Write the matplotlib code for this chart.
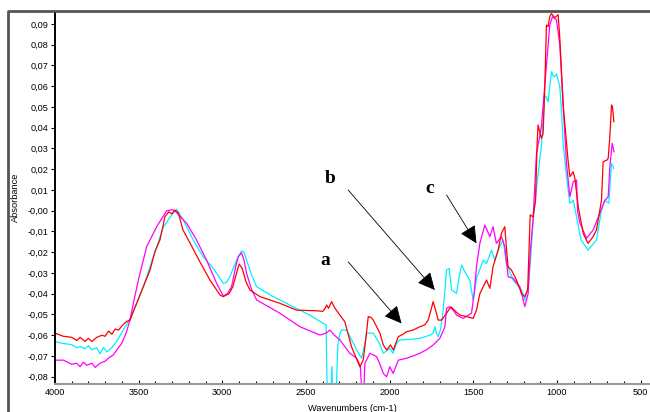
import matplotlib
matplotlib.use("Agg")
import matplotlib.pyplot as plt
from matplotlib.lines import Line2D

# ---- data (wavenumber, absorbance) ----
red_w = [4000, 3950, 3900, 3870, 3850, 3820, 3800, 3780, 3750, 3720, 3700, 3680, 3660, 3640, 3620, 3600,
         3575, 3552, 3512, 3472, 3432, 3403, 3373, 3343, 3320, 3303, 3283, 3263, 3235, 3193, 3134, 3074,
         3014, 2995, 2960, 2937, 2915, 2899, 2880, 2860, 2835, 2775, 2656, 2556, 2437, 2400, 2385, 2377,
         2365, 2347, 2327, 2300, 2268, 2228, 2200, 2178, 2158, 2140, 2128, 2110, 2098, 2058, 2038, 2018,
         1995, 1978, 1948, 1920, 1899, 1860, 1819, 1790, 1770, 1750, 1740, 1725, 1710, 1690, 1665, 1640,
         1630, 1600, 1580, 1540, 1501, 1481, 1461, 1441, 1421, 1401, 1382, 1352, 1332, 1312, 1300, 1292,
         1272, 1242, 1212, 1192, 1175, 1160, 1143, 1128, 1119, 1113, 1093, 1083, 1073, 1063, 1053, 1043,
         1033, 1013, 993, 983, 963, 933, 923, 903, 893, 873, 843, 814, 784, 764, 734, 724, 700, 694,
         684, 674, 668, 660]
red_a = [-0.059, -0.0605, -0.061, -0.0625, -0.061, -0.063, -0.0615, -0.063, -0.061, -0.060, -0.0605, -0.058,
         -0.0595, -0.057, -0.0575, -0.0555, -0.0535, -0.0527, -0.0446, -0.0366, -0.0286, -0.0198, -0.0141,
         -0.0029, -0.0005, -0.0015, 0.0003, -0.001, -0.0093, -0.0156, -0.0246, -0.0334, -0.0406, -0.0414,
         -0.040, -0.0366, -0.030, -0.0257, -0.028, -0.034, -0.0382, -0.0414, -0.0446, -0.0479, -0.0482,
         -0.0485, -0.047, -0.0454, -0.047, -0.0438, -0.047, -0.050, -0.0535, -0.0655, -0.071, -0.0752,
         -0.072, -0.060, -0.051, -0.0515, -0.0527, -0.059, -0.0647, -0.0671, -0.0647, -0.0671, -0.0607,
         -0.0595, -0.0583, -0.0575, -0.0559, -0.055, -0.0527, -0.047, -0.0438, -0.048, -0.0527, -0.0527,
         -0.050, -0.047, -0.0465, -0.049, -0.0503, -0.051, -0.0519, -0.0479, -0.040, -0.0366, -0.0334,
         -0.0374, -0.027, -0.019, -0.0109, -0.0077, -0.020, -0.027, -0.0286, -0.0334, -0.0398, -0.0414,
         -0.038, -0.002, -0.003, 0.005, 0.0317, 0.0413, 0.0349, 0.037, 0.059, 0.0895, 0.0887, 0.0935,
         0.095, 0.093, 0.0945, 0.083, 0.051, 0.0236, 0.0164, 0.0188, 0.0156, 0.002, -0.011, -0.0157,
         -0.0125, -0.0093, 0.005, 0.0236, 0.0245, 0.0252, 0.0357, 0.051, 0.050, 0.0429]

cyan_w = [4000, 3950, 3900, 3870, 3850, 3820, 3800, 3780, 3750, 3731, 3710, 3690, 3661, 3631, 3610, 3592,
          3552, 3520, 3472, 3413, 3351, 3311, 3273, 3233, 3174, 3114, 3054, 2994, 2975, 2955, 2915, 2885,
          2870, 2855, 2825, 2795, 2696, 2576, 2477, 2397, 2380, 2372, 2355, 2345, 2338, 2322, 2310, 2297,
          2287, 2257, 2197, 2168, 2150, 2138, 2098, 2060, 2038, 1999, 1979, 1960, 1939, 1880, 1819, 1760,
          1740, 1730, 1720, 1710, 1695, 1680, 1660, 1644, 1630, 1600, 1585, 1570, 1551, 1521, 1501, 1481,
          1441, 1421, 1391, 1372, 1342, 1322, 1302, 1262, 1212, 1192, 1172, 1158, 1145, 1133, 1103, 1093,
          1083, 1073, 1063, 1053, 1043, 1033, 1023, 1013, 1003, 993, 983, 973, 963, 943, 923, 903, 883,
          856, 814, 764, 734, 714, 690, 674, 660]
cyan_a = [-0.0631, -0.064, -0.0645, -0.066, -0.0655, -0.0665, -0.065, -0.067, -0.066, -0.069, -0.066,
          -0.068, -0.066, -0.063, -0.060, -0.0575, -0.052, -0.046, -0.0366, -0.0222, -0.0077, -0.0029,
          0.0007, -0.0045, -0.0141, -0.0222, -0.0278, -0.035, -0.0345, -0.0318, -0.0238, -0.0193, -0.020,
          -0.0238, -0.031, -0.0366, -0.0414, -0.0463, -0.0503, -0.0543, -0.055, -0.095, -0.095, -0.075,
          -0.095, -0.095, -0.065, -0.059, -0.0575, -0.0575, -0.0671, -0.0711, -0.065, -0.059, -0.059,
          -0.064, -0.0687, -0.0663, -0.0687, -0.064, -0.0623, -0.062, -0.0615, -0.060, -0.059, -0.0559,
          -0.059, -0.0607, -0.057, -0.0479, -0.0286, -0.0278, -0.0382, -0.0398, -0.032, -0.0262, -0.0294,
          -0.0334, -0.043, -0.0326, -0.0238, -0.0254, -0.019, -0.0238, -0.0173, -0.0141, -0.0254, -0.0334,
          -0.0382, -0.043, -0.0366, -0.024, -0.008, 0.003, 0.0244, 0.0317, 0.043, 0.0557, 0.0545, 0.0525,
          0.060, 0.067, 0.065, 0.0646, 0.066, 0.063, 0.0598, 0.048, 0.0325, 0.0164, 0.0036, 0.005,
          -0.0029, -0.0141, -0.019, -0.0141, 0.0003, 0.005, 0.0036, 0.0228, 0.0204]

mag_w = [4000, 3950, 3900, 3870, 3850, 3830, 3810, 3780, 3760, 3731, 3700, 3680, 3652, 3630, 3602, 3575,
         3552, 3530, 3502, 3452, 3392, 3333, 3300, 3283, 3250, 3213, 3154, 3094, 3034, 2994, 2970, 2945,
         2920, 2905, 2885, 2870, 2855, 2825, 2795, 2656, 2536, 2417, 2380, 2357, 2330, 2297, 2238, 2197,
         2175, 2165, 2155, 2148, 2118, 2078, 2058, 2038, 2018, 1999, 1979, 1948, 1899, 1860, 1819, 1780,
         1740, 1700, 1670, 1660, 1640, 1620, 1600, 1561, 1511, 1495, 1481, 1461, 1431, 1401, 1382, 1362,
         1332, 1312, 1292, 1262, 1222, 1192, 1172, 1160, 1143, 1123, 1093, 1063, 1043, 1027, 1003, 983,
         963, 943, 923, 903, 883, 877, 863, 823, 784, 744, 714, 694, 684, 670, 659]
mag_a = [-0.072, -0.072, -0.074, -0.0735, -0.0752, -0.073, -0.0745, -0.0735, -0.0755, -0.0735, -0.0725,
         -0.071, -0.0695, -0.067, -0.064, -0.059, -0.0527, -0.044, -0.0334, -0.0173, -0.0077, 0.000,
         0.0005, 0.000, -0.003, -0.0061, -0.0141, -0.0238, -0.035, -0.0411, -0.040, -0.0366, -0.027,
         -0.0222, -0.0203, -0.024, -0.0302, -0.038, -0.043, -0.0494, -0.0559, -0.0599, -0.059, -0.0575,
         -0.060, -0.0623, -0.0687, -0.0711, -0.075, -0.090, -0.088, -0.0735, -0.0687, -0.0703, -0.074,
         -0.0784, -0.080, -0.0752, -0.0784, -0.072, -0.0711, -0.070, -0.0687, -0.067, -0.0647, -0.0615,
         -0.056, -0.047, -0.0462, -0.048, -0.0503, -0.0519, -0.0494, -0.040, -0.027, -0.0157, -0.0069,
         -0.0125, -0.0077, -0.0157, -0.0125, -0.0173, -0.0318, -0.0326, -0.0366, -0.0462, -0.0398, -0.020,
         -0.0045, 0.027, 0.0405, 0.070, 0.0895, 0.0935, 0.092, 0.080, 0.051, 0.0228, 0.0067, 0.014, 0.0148,
         0.000, -0.006, -0.0133, -0.0093, -0.0013, 0.005, 0.0067, 0.0212, 0.0325, 0.0284]

y_ticks = [0.09, 0.08, 0.07, 0.06, 0.05, 0.04, 0.03, 0.02, 0.01, 0.0,
           -0.01, -0.02, -0.03, -0.04, -0.05, -0.06, -0.07, -0.08]
y_tick_labels = ["0,09", "0,08", "0,07", "0,06", "0,05", "0,04", "0,03", "0,02", "0,01", "-0,00",
                 "-0,01", "-0,02", "-0,03", "-0,04", "-0,05", "-0,06", "-0,07", "-0,08"]
x_ticks = [4000, 3500, 3000, 2500, 2000, 1500, 1000, 500]
x_minor = [w for w in range(4000, 449, -100) if w % 500 != 0]

# annotations: label, label position, arrow start, arrow tip
ann_labels = ["a", "b", "c"]
ann_text_pos = [(2387, -0.0262), (2357, 0.0133), (1760, 0.0084)]
ann_start = [(2248, -0.0246), (2248, 0.010), (1660, 0.0076)]
ann_tip = [(1929, -0.0543), (1730, -0.0382), (1481, -0.0157)]

plt.rcParams['font.family'] = ['Liberation Sans', 'DejaVu Sans']

fig = plt.figure(figsize=(6.5, 4.12), dpi=100)
ax = fig.add_axes([55/650, 1-384/412, (649-55)/650, (384-10.7)/412])

ax.plot(cyan_w, cyan_a, color='#00f0ff', lw=0.9)
ax.plot(mag_w, mag_a, color='#ff00ff', lw=0.9)
ax.plot(red_w, red_a, color='#ff0000', lw=0.9)

ax.set_xlim(4000, 450)
ax.set_ylim(-0.0835, 0.0964)

ax.set_yticks(y_ticks)
ax.set_yticklabels(y_tick_labels)
ax.set_xticks(x_ticks)
ax.set_xticklabels([str(t) for t in x_ticks])
ax.set_xticks(x_minor, minor=True)

ax.tick_params(axis='y', direction='out', length=3, width=0.8, labelsize=6.6, pad=1.5)
ax.tick_params(axis='x', which='major', direction='in', length=3, width=0.8, labelsize=6.6, pad=3)
ax.tick_params(axis='x', which='minor', direction='in', length=2, width=0.8)

for s in ['top', 'right']:
    ax.spines[s].set_visible(False)
ax.spines['left'].set_linestyle((0, (1, 1)))
ax.spines['left'].set_linewidth(1.4)
ax.spines['bottom'].set_color('#999999')
ax.spines['bottom'].set_linewidth(1.5)

ax.set_xlabel("Wavenumbers (cm-1)", fontsize=6.7, labelpad=5)
ax.set_ylabel("Absorbance", fontsize=6.7)
ax.yaxis.set_label_coords(-35/594, 0.5)

for lab, tp, st, tip in zip(ann_labels, ann_text_pos, ann_start, ann_tip):
    ax.text(tp[0], tp[1], lab, fontsize=14, fontweight='bold', family='Liberation Serif',
            ha='center', va='baseline')
    ax.annotate("", xy=tip, xytext=st,
                arrowprops=dict(arrowstyle='-|>,head_length=0.45,head_width=0.22',
                                mutation_scale=24, lw=0.6, color='black',
                                shrinkA=0, shrinkB=0))

# outer frame (left and top edges)
fig.add_artist(Line2D([8/650, 8/650, 1.0], [0.0, 1-10.7/412, 1-10.7/412],
                      transform=fig.transFigure, color='#555555', lw=2.0))

fig.savefig("out.png", dpi=100)
